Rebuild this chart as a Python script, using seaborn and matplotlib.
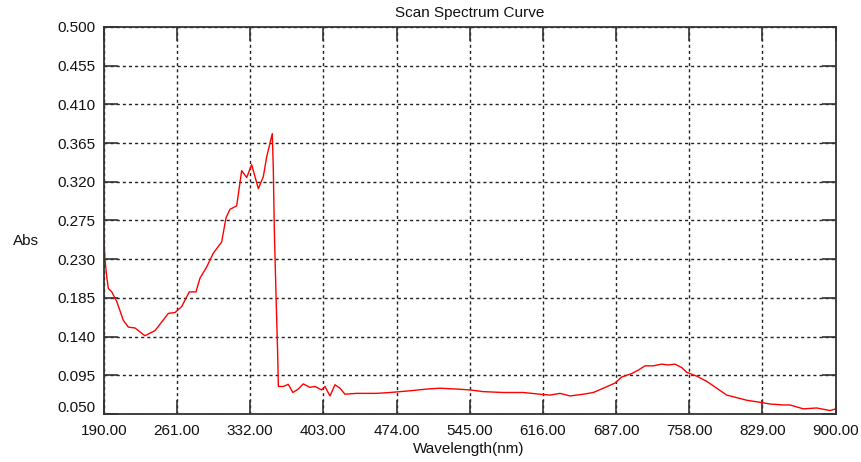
import matplotlib
matplotlib.use("Agg")
import matplotlib.pyplot as plt
import matplotlib.transforms as mtransforms
import seaborn as sns
import pandas as pd

# ---- data ----
wavelength = [190, 191.3, 192.9, 194.5, 197.8, 202.6, 209, 213.9, 220.4, 230,
              239.8, 246.3, 252.7, 259.2, 265.7, 273, 279.5, 283.4, 289.9, 296.3,
              304.4, 308.6, 312.5, 319, 323.8, 328.7, 333.5, 340, 344.8, 348.1,
              353.5, 354.5, 355.5, 357.1, 358.8, 359.4, 364.2, 369, 373.5, 378.7,
              383.6, 390, 395, 401.4, 404.6, 409.5, 414.3, 419.2, 424, 435.4,
              454.8, 467.7, 487.1, 503.3, 516.2, 532.4, 545.3, 558.2, 577.6, 597,
              613.2, 622.9, 632.6, 642.3, 655.2, 664.9, 674.6, 686, 692.4, 702.1,
              708.5, 715, 723.1, 731.2, 737.6, 744.1, 750.6, 755.5, 765.2, 774.9,
              784.6, 794.3, 804, 813.7, 826.6, 836.3, 849.2, 855.7, 868.6, 881.6,
              894.5, 900]
absorbance = [0.256, 0.229, 0.210, 0.196, 0.192, 0.181, 0.159, 0.151, 0.150, 0.141,
              0.147, 0.157, 0.167, 0.168, 0.175, 0.192, 0.192, 0.208, 0.221, 0.237,
              0.250, 0.278, 0.288, 0.292, 0.333, 0.325, 0.340, 0.312, 0.326, 0.349,
              0.376, 0.336, 0.264, 0.190, 0.117, 0.082, 0.082, 0.0845, 0.075, 0.079,
              0.085, 0.081, 0.082, 0.078, 0.082, 0.071, 0.084, 0.080, 0.073, 0.074,
              0.074, 0.075, 0.077, 0.079, 0.080, 0.079, 0.078, 0.076, 0.075, 0.075,
              0.073, 0.072, 0.074, 0.071, 0.073, 0.075, 0.080, 0.086, 0.093, 0.097,
              0.101, 0.106, 0.106, 0.108, 0.107, 0.108, 0.104, 0.0985, 0.094, 0.088,
              0.080, 0.072, 0.069, 0.066, 0.0636, 0.0616, 0.0605, 0.0605, 0.056, 0.057,
              0.054, 0.056]

x_ticks = [190, 261, 332, 403, 474, 545, 616, 687, 758, 829, 900]
y_ticks = [0.050, 0.095, 0.140, 0.185, 0.230, 0.275, 0.320, 0.365, 0.410, 0.455, 0.500]
title = "Scan Spectrum Curve"
x_label = "Wavelength(nm)"
y_label = "Abs"

df = pd.DataFrame({"wl": wavelength, "abs": absorbance})

sns.set_theme(style="white")
plt.rcParams["font.family"] = ["Liberation Sans", "DejaVu Sans"]

fig = plt.figure(figsize=(8.62, 4.62), dpi=100)
ax = fig.add_axes([103.7 / 862, 1 - 414 / 462, (835.7 - 103.7) / 862, (414 - 27) / 462])

sns.lineplot(data=df, x="wl", y="abs", ax=ax, color="#ff0000", linewidth=1.0,
             sort=False, estimator=None)

ax.set_xlim(190, 900)
ax.set_ylim(0.05, 0.5)
ax.set_xticks(x_ticks)
ax.set_yticks(y_ticks)
ax.set_xticklabels([f"{v:.2f}" for v in x_ticks], fontsize=11, color="#111111")
ax.set_yticklabels([f"{v:.3f}" for v in y_ticks], fontsize=11, color="#111111")

ax.grid(True, color="#222222", linestyle=(0, (2.2, 2.2)), linewidth=1.0)
ax.tick_params(axis="both", which="major", direction="in", length=10, width=1.2,
               color="#333333", top=True, right=True, bottom=True, left=True,
               labeltop=False, labelright=False)
ax.tick_params(axis="x", pad=7)
ax.tick_params(axis="y", pad=6)
for sp in ax.spines.values():
    sp.set_color("#333333")
    sp.set_linewidth(1.3)

ax.set_xlabel("")
ax.set_ylabel("")
ax.set_title(title, fontsize=11, pad=7, color="#111111")
fig.text(469 / 862, 1 - 449 / 462, x_label, ha="center", va="center", fontsize=11, color="#111111")
fig.text(25.5 / 862, 1 - 241 / 462, y_label, ha="center", va="center", fontsize=11, color="#111111")

fig.canvas.draw()
# the lowest y label sits a little above its tick in the reference
lbl = ax.yaxis.get_majorticklabels()[0]
lbl.set_transform(lbl.get_transform() + mtransforms.ScaledTranslation(0, 8 / 100, fig.dpi_scale_trans))

fig.savefig("out.png", dpi=100, facecolor="white")
